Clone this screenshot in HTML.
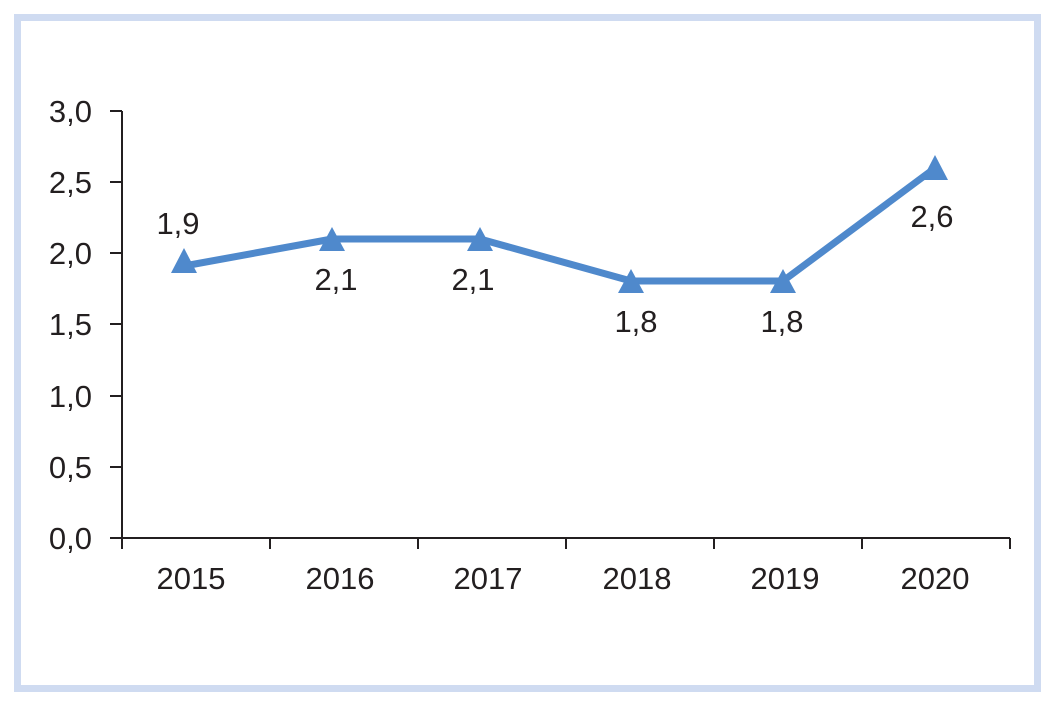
<!DOCTYPE html>
<html><head><style>
body{margin:0;background:#fff;}
svg{display:block;}
text{font-family:"Liberation Sans",sans-serif;fill:#231f20;}
</style></head><body>
<svg width="1055" height="706" viewBox="0 0 1055 706">
<rect x="17.5" y="17.5" width="1020" height="671" fill="#fff" stroke="#cfdbf1" stroke-width="7"/>
<g stroke="#231f20" stroke-width="2" fill="none">
<line x1="122" y1="111" x2="122" y2="539"/>
<line x1="122" y1="538" x2="1010" y2="538"/>
<line x1="110" y1="111" x2="122" y2="111"/>
<line x1="110" y1="182" x2="122" y2="182"/>
<line x1="110" y1="253" x2="122" y2="253"/>
<line x1="110" y1="324" x2="122" y2="324"/>
<line x1="110" y1="396" x2="122" y2="396"/>
<line x1="110" y1="467" x2="122" y2="467"/>
<line x1="110" y1="538" x2="122" y2="538"/>
<line x1="122" y1="538" x2="122" y2="549"/>
<line x1="270" y1="538" x2="270" y2="549"/>
<line x1="418" y1="538" x2="418" y2="549"/>
<line x1="566" y1="538" x2="566" y2="549"/>
<line x1="714" y1="538" x2="714" y2="549"/>
<line x1="862" y1="538" x2="862" y2="549"/>
<line x1="1010" y1="538" x2="1010" y2="549"/>
</g>
<g font-size="31" text-anchor="end">
<text x="92" y="122">3,0</text>
<text x="92" y="193">2,5</text>
<text x="92" y="264">2,0</text>
<text x="92" y="335">1,5</text>
<text x="92" y="407">1,0</text>
<text x="92" y="478">0,5</text>
<text x="92" y="549">0,0</text>
</g>
<g font-size="31" text-anchor="middle">
<text x="191" y="589">2015</text>
<text x="340" y="589">2016</text>
<text x="488" y="589">2017</text>
<text x="637" y="589">2018</text>
<text x="785" y="589">2019</text>
<text x="935" y="589">2020</text>
</g>
<polyline points="184,266 332,239 480,239 631,281 783,281 935,168" fill="none" stroke="#4f89cc" stroke-width="7" stroke-linejoin="round"/>
<g fill="#4f89cc">
<polygon points="184,248 171,273 197,273"/>
<polygon points="332,227 319,251 345,251"/>
<polygon points="480,227 467,251 493,251"/>
<polygon points="631,269 618,293 644,293"/>
<polygon points="783,269 770,293 796,293"/>
<polygon points="935,155 922,180 948,180"/>
</g>
<g font-size="31" text-anchor="middle">
<text x="178" y="234">1,9</text>
<text x="336" y="290">2,1</text>
<text x="473" y="290">2,1</text>
<text x="636" y="332">1,8</text>
<text x="782" y="332">1,8</text>
<text x="932" y="227">2,6</text>
</g>
</svg>
</body></html>
